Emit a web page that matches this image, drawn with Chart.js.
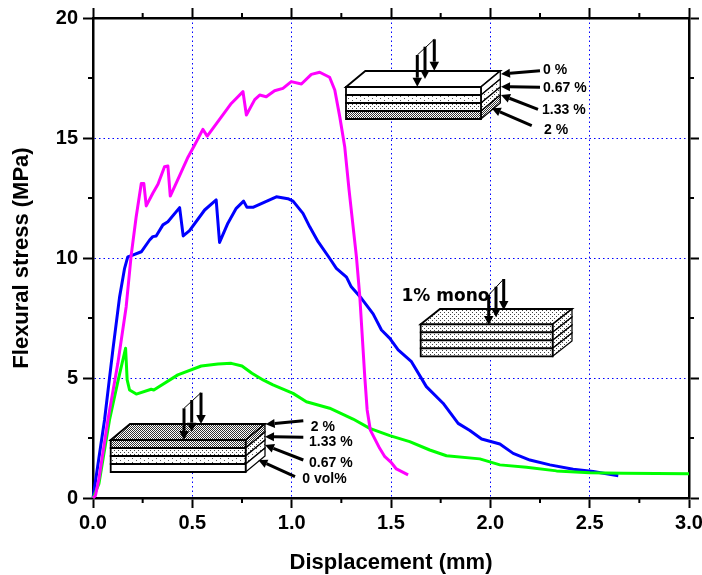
<!DOCTYPE html>
<html>
<head>
<meta charset="utf-8">
<style>html,body{margin:0;padding:0;background:#fff}canvas{display:block}</style>
<script src="https://cdn.jsdelivr.net/npm/chart.js@4"></script>
</head>
<body>
<canvas id="c" width="702" height="575"></canvas>
<script>
const magentaX = [0,0.012,0.03,0.075,0.125,0.167,0.192,0.217,0.243,0.256,0.268,0.301,0.327,0.36,0.377,0.389,0.436,0.478,0.511,0.553,0.575,0.637,0.696,0.755,0.772,0.814,0.839,0.872,0.914,0.956,0.998,1.049,1.099,1.141,1.191,1.217,1.242,1.267,1.289,1.326,1.343,1.368,1.38,1.396,1.443,1.469,1.502,1.527,1.586];
const magentaY = [0,0.1,0.8,3.25,5.61,7.97,10.1,11.7,13.1,13.1,12.17,12.7,13.07,13.8,13.83,12.58,13.43,14.2,14.7,15.36,15.08,15.78,16.44,16.93,15.96,16.6,16.79,16.72,16.97,17.07,17.35,17.25,17.65,17.74,17.53,17.0,15.89,14.64,12.83,10.05,8.39,5.05,3.67,2.83,2.07,1.72,1.47,1.21,0.96];
const blueX = [0,0.058,0.1,0.134,0.159,0.175,0.2,0.243,0.285,0.301,0.318,0.352,0.377,0.436,0.454,0.486,0.562,0.62,0.637,0.679,0.721,0.758,0.775,0.805,0.923,0.981,1.007,1.057,1.091,1.133,1.191,1.225,1.276,1.3,1.351,1.41,1.452,1.494,1.536,1.603,1.678,1.762,1.838,1.897,1.956,2.048,2.115,2.199,2.3,2.417,2.518,2.644];
const blueY = [0,3.25,6.17,8.39,9.57,10.05,10.12,10.26,10.75,10.89,10.92,11.38,11.51,12.1,10.92,11.14,12.0,12.42,10.65,11.45,12.07,12.37,12.11,12.11,12.55,12.47,12.37,11.86,11.3,10.68,9.99,9.57,9.2,8.8,8.32,7.67,7.0,6.65,6.17,5.68,4.64,3.95,3.11,2.81,2.46,2.25,1.86,1.58,1.38,1.2,1.1,0.93];
const greenX = [0,0.03,0.083,0.125,0.164,0.172,0.184,0.218,0.293,0.306,0.427,0.545,0.629,0.696,0.75,0.8,0.856,0.906,1.007,1.074,1.191,1.242,1.309,1.393,1.494,1.594,1.695,1.779,1.947,2.048,2.182,2.333,2.5,2.668,3.0];
const greenY = [0,0.6,3.25,4.85,6.24,4.92,4.5,4.33,4.53,4.5,5.13,5.5,5.58,5.61,5.5,5.2,4.92,4.71,4.36,4.01,3.74,3.55,3.29,2.9,2.6,2.35,2.0,1.76,1.63,1.38,1.28,1.13,1.05,1.03,1.01];
const xMinorTicks = [0.25,0.75,1.25,1.75,2.25,2.75];
const yMinorTicks = [2.5,7.5,12.5,17.5];
const xAxisTitle = 'Displacement (mm)';
const yAxisTitle = 'Flexural stress (MPa)';

const pts = (xs, ys) => xs.map((x, i) => ({x, y: ys[i]}));
const ARIAL = '"Liberation Sans", Arial, sans-serif';

function dotPattern(ctx, kind) {
  const c = document.createElement('canvas');
  const spec = {sparse:[8,4,'#555'], medium:[4,4,'#444'], dense:[2,2,'#333']}[kind];
  c.width = spec[0]; c.height = spec[1];
  const g = c.getContext('2d');
  g.fillStyle = '#fff'; g.fillRect(0,0,c.width,c.height);
  g.fillStyle = spec[2];
  g.fillRect(0,0,1,1);
  g.fillRect(c.width/2,c.height/2,1,1);
  return ctx.createPattern(c,'repeat');
}
function poly(ctx, p, fill, lw) {
  ctx.beginPath();
  p.forEach((q,i)=> i?ctx.lineTo(q[0],q[1]):ctx.moveTo(q[0],q[1]));
  ctx.closePath();
  ctx.fillStyle = fill; ctx.fill();
  ctx.lineWidth = lw; ctx.strokeStyle='#000'; ctx.stroke();
}
function slab(ctx, left, right, top, h, dx, dy, layers, topFill, lw) {
  poly(ctx, [[left,top],[left+dx,top+dy],[right+dx,top+dy],[right,top]], topFill, lw);
  layers.forEach((f,i)=>{
    const y0 = top + i*h, y1 = y0 + h;
    poly(ctx, [[right,y0],[right+dx,y0+dy],[right+dx,y1+dy],[right,y1]], f, lw*0.7);
    poly(ctx, [[left,y0],[right,y0],[right,y1],[left,y1]], f, lw);
  });
}
function arrow(ctx, x0, y0, x1, y1, lw, hl, hw) {
  const a = Math.atan2(y1-y0, x1-x0), ux=Math.cos(a), uy=Math.sin(a);
  ctx.strokeStyle='#000'; ctx.fillStyle='#000'; ctx.lineWidth=lw; ctx.lineCap='butt';
  ctx.beginPath(); ctx.moveTo(x0,y0); ctx.lineTo(x1-ux*hl,y1-uy*hl); ctx.stroke();
  ctx.beginPath(); ctx.moveTo(x1,y1);
  ctx.lineTo(x1-ux*hl-uy*hw/2, y1-uy*hl+ux*hw/2);
  ctx.lineTo(x1-ux*hl+uy*hw/2, y1-uy*hl-ux*hw/2);
  ctx.closePath(); ctx.fill();
}
function loadArrows(ctx, shafts) {
  ctx.strokeStyle='#000'; ctx.lineWidth=1;
  ctx.beginPath(); ctx.moveTo(shafts[0][0],shafts[0][1]); ctx.lineTo(shafts[2][0],shafts[2][1]); ctx.stroke();
  shafts.forEach(s=>arrow(ctx,s[0],s[1],s[0],s[2],3,9,9.5));
}
function label(ctx, t, x, y, font) {
  ctx.font = font; ctx.fillStyle='#000'; ctx.textAlign='left'; ctx.textBaseline='middle';
  ctx.fillText(t,x,y);
}

const insetPlugin = {
  id:'insets',
  afterDatasetsDraw(chart){
    const ctx = chart.ctx;
    ctx.save();
    const P = {s:dotPattern(ctx,'sparse'), m:dotPattern(ctx,'medium'), d:dotPattern(ctx,'dense')};
    const f14 = 'bold 14px '+ARIAL;

    slab(ctx,346,481,87,8,19.3,-16,['#fff',P.s,P.m,P.d],'#fff',1.8);
    loadArrows(ctx,[[417.3,55,86.7],[425,46.7,79],[434.3,39.3,70.7]]);
    [[540,70.7,501,74],[540,87.3,501,86.7],[538,109.3,501,95],[531.7,125.7,491.7,108.3]].forEach(a=>arrow(ctx,a[0],a[1],a[2],a[3],3,9,9));
    label(ctx,'0 %',543,70.5,f14); label(ctx,'0.67 %',543,88,f14); label(ctx,'1.33 %',542,110.5,f14); label(ctx,'2 %',544,130,f14);

    slab(ctx,110.7,245.7,440,8,19.3,-16,[P.d,P.m,P.s,'#fff'],P.d,1.8);
    loadArrows(ctx,[[184,408.3,440],[191.7,400,431.7],[201,392.7,424]]);
    [[303.3,420.7,265.7,424.3],[303.3,437.3,265,436.7],[303.3,460,265,445],[295,476.7,258.3,460]].forEach(a=>arrow(ctx,a[0],a[1],a[2],a[3],3,9,9));
    label(ctx,'2 %',310.7,427.5,f14); label(ctx,'1.33 %',309,442,f14); label(ctx,'0.67 %',309,463.5,f14); label(ctx,'0 vol%',302.3,479.5,f14);

    label(ctx,'1% mono',401.5,297,'bold 17px "DejaVu Sans", sans-serif');
    slab(ctx,420.7,552.7,324.3,8,19.3,-15.3,[P.m,P.m,P.m,P.m],P.m,1.8);
    loadArrows(ctx,[[488.7,295,325],[496,286.7,317.3],[503.7,279,310]]);

    ctx.restore();
  },
  afterDraw(chart){
    const ctx = chart.ctx, {x, y} = chart.scales, a = chart.chartArea, len = 5;
    ctx.save();
    ctx.strokeStyle='#000'; ctx.lineWidth=2;
    ctx.beginPath();
    xMinorTicks.forEach(v=>{
      const p = x.getPixelForValue(v);
      ctx.moveTo(p,a.bottom); ctx.lineTo(p,a.bottom+len);
      ctx.moveTo(p,a.top); ctx.lineTo(p,a.top-len);
    });
    yMinorTicks.forEach(v=>{
      const p = y.getPixelForValue(v);
      ctx.moveTo(a.left,p); ctx.lineTo(a.left-len,p);
      ctx.moveTo(a.right,p); ctx.lineTo(a.right+len,p);
    });
    ctx.stroke();
    ctx.restore();
  }
};

const BLUE = '#0000ff';
const axisBorder = {color:'#000', width:2.5};
const gridDash = [1.5,3];
const tickFont = {family:ARIAL, size:20, weight:'bold'};
const titleFont = {family:ARIAL, size:22, weight:'bold', lineHeight:1.1};
const interior = (min,max)=> c => (c.tick && c.tick.value>min && c.tick.value<max) ? BLUE : 'rgba(0,0,0,0)';
const fixSize = (w,h) => s => {
  s.paddingLeft = 0; s.paddingRight = 0; s.paddingTop = 0; s.paddingBottom = 0;
  if (w !== null) s.width = w;
  if (h !== null) s.height = h;
};

new Chart(document.getElementById('c'),{
  type:'scatter',
  data:{datasets:[
    {label:'Magenta',data:pts(magentaX,magentaY),borderColor:'#ff00ff',backgroundColor:'#ff00ff'},
    {label:'Green',data:pts(greenX,greenY),borderColor:'#00ff00',backgroundColor:'#00ff00'},
    {label:'Blue',data:pts(blueX,blueY),borderColor:BLUE,backgroundColor:BLUE}
  ].map(d=>Object.assign(d,{showLine:true,pointRadius:0,borderWidth:3,tension:0,fill:false,borderJoinStyle:'round',clip:false}))},
  plugins:[insetPlugin],
  options:{
    responsive:false,animation:false,
    layout:{padding:0,autoPadding:false},
    plugins:{legend:{display:false},tooltip:{enabled:false}},
    scales:{
      x:{type:'linear',position:'bottom',min:0,max:3,
        afterFit:fixSize(null,77),
        ticks:{stepSize:0.5,color:'#000',font:tickFont,padding:3,maxRotation:0,callback:v=>v.toFixed(1)},
        grid:{color:interior(0,3),lineWidth:1,tickColor:'#000',tickWidth:2,tickLength:10},
        border:Object.assign({dash:gridDash},axisBorder),
        title:{display:true,text:xAxisTitle,color:'#000',font:titleFont,padding:{top:0,bottom:0}}},
      y:{type:'linear',position:'left',min:0,max:20,
        afterFit:fixSize(93,null),
        ticks:{stepSize:5,color:'#000',font:tickFont,padding:5},
        grid:{color:interior(0,20),lineWidth:1,tickColor:'#000',tickWidth:2,tickLength:10},
        border:Object.assign({dash:gridDash},axisBorder),
        title:{display:true,text:yAxisTitle,color:'#000',font:titleFont,padding:{top:10,bottom:0}}},
      x2:{type:'linear',position:'top',min:0,max:3,
        afterFit:fixSize(null,18),
        ticks:{stepSize:0.5,display:false},
        grid:{drawOnChartArea:false,tickColor:'#000',tickWidth:2,tickLength:10},
        border:axisBorder},
      y2:{type:'linear',position:'right',min:0,max:20,
        afterFit:fixSize(13,null),
        ticks:{stepSize:5,display:false},
        grid:{drawOnChartArea:false,tickColor:'#000',tickWidth:2,tickLength:10},
        border:axisBorder}
    }
  }
});
</script>
</body>
</html>
